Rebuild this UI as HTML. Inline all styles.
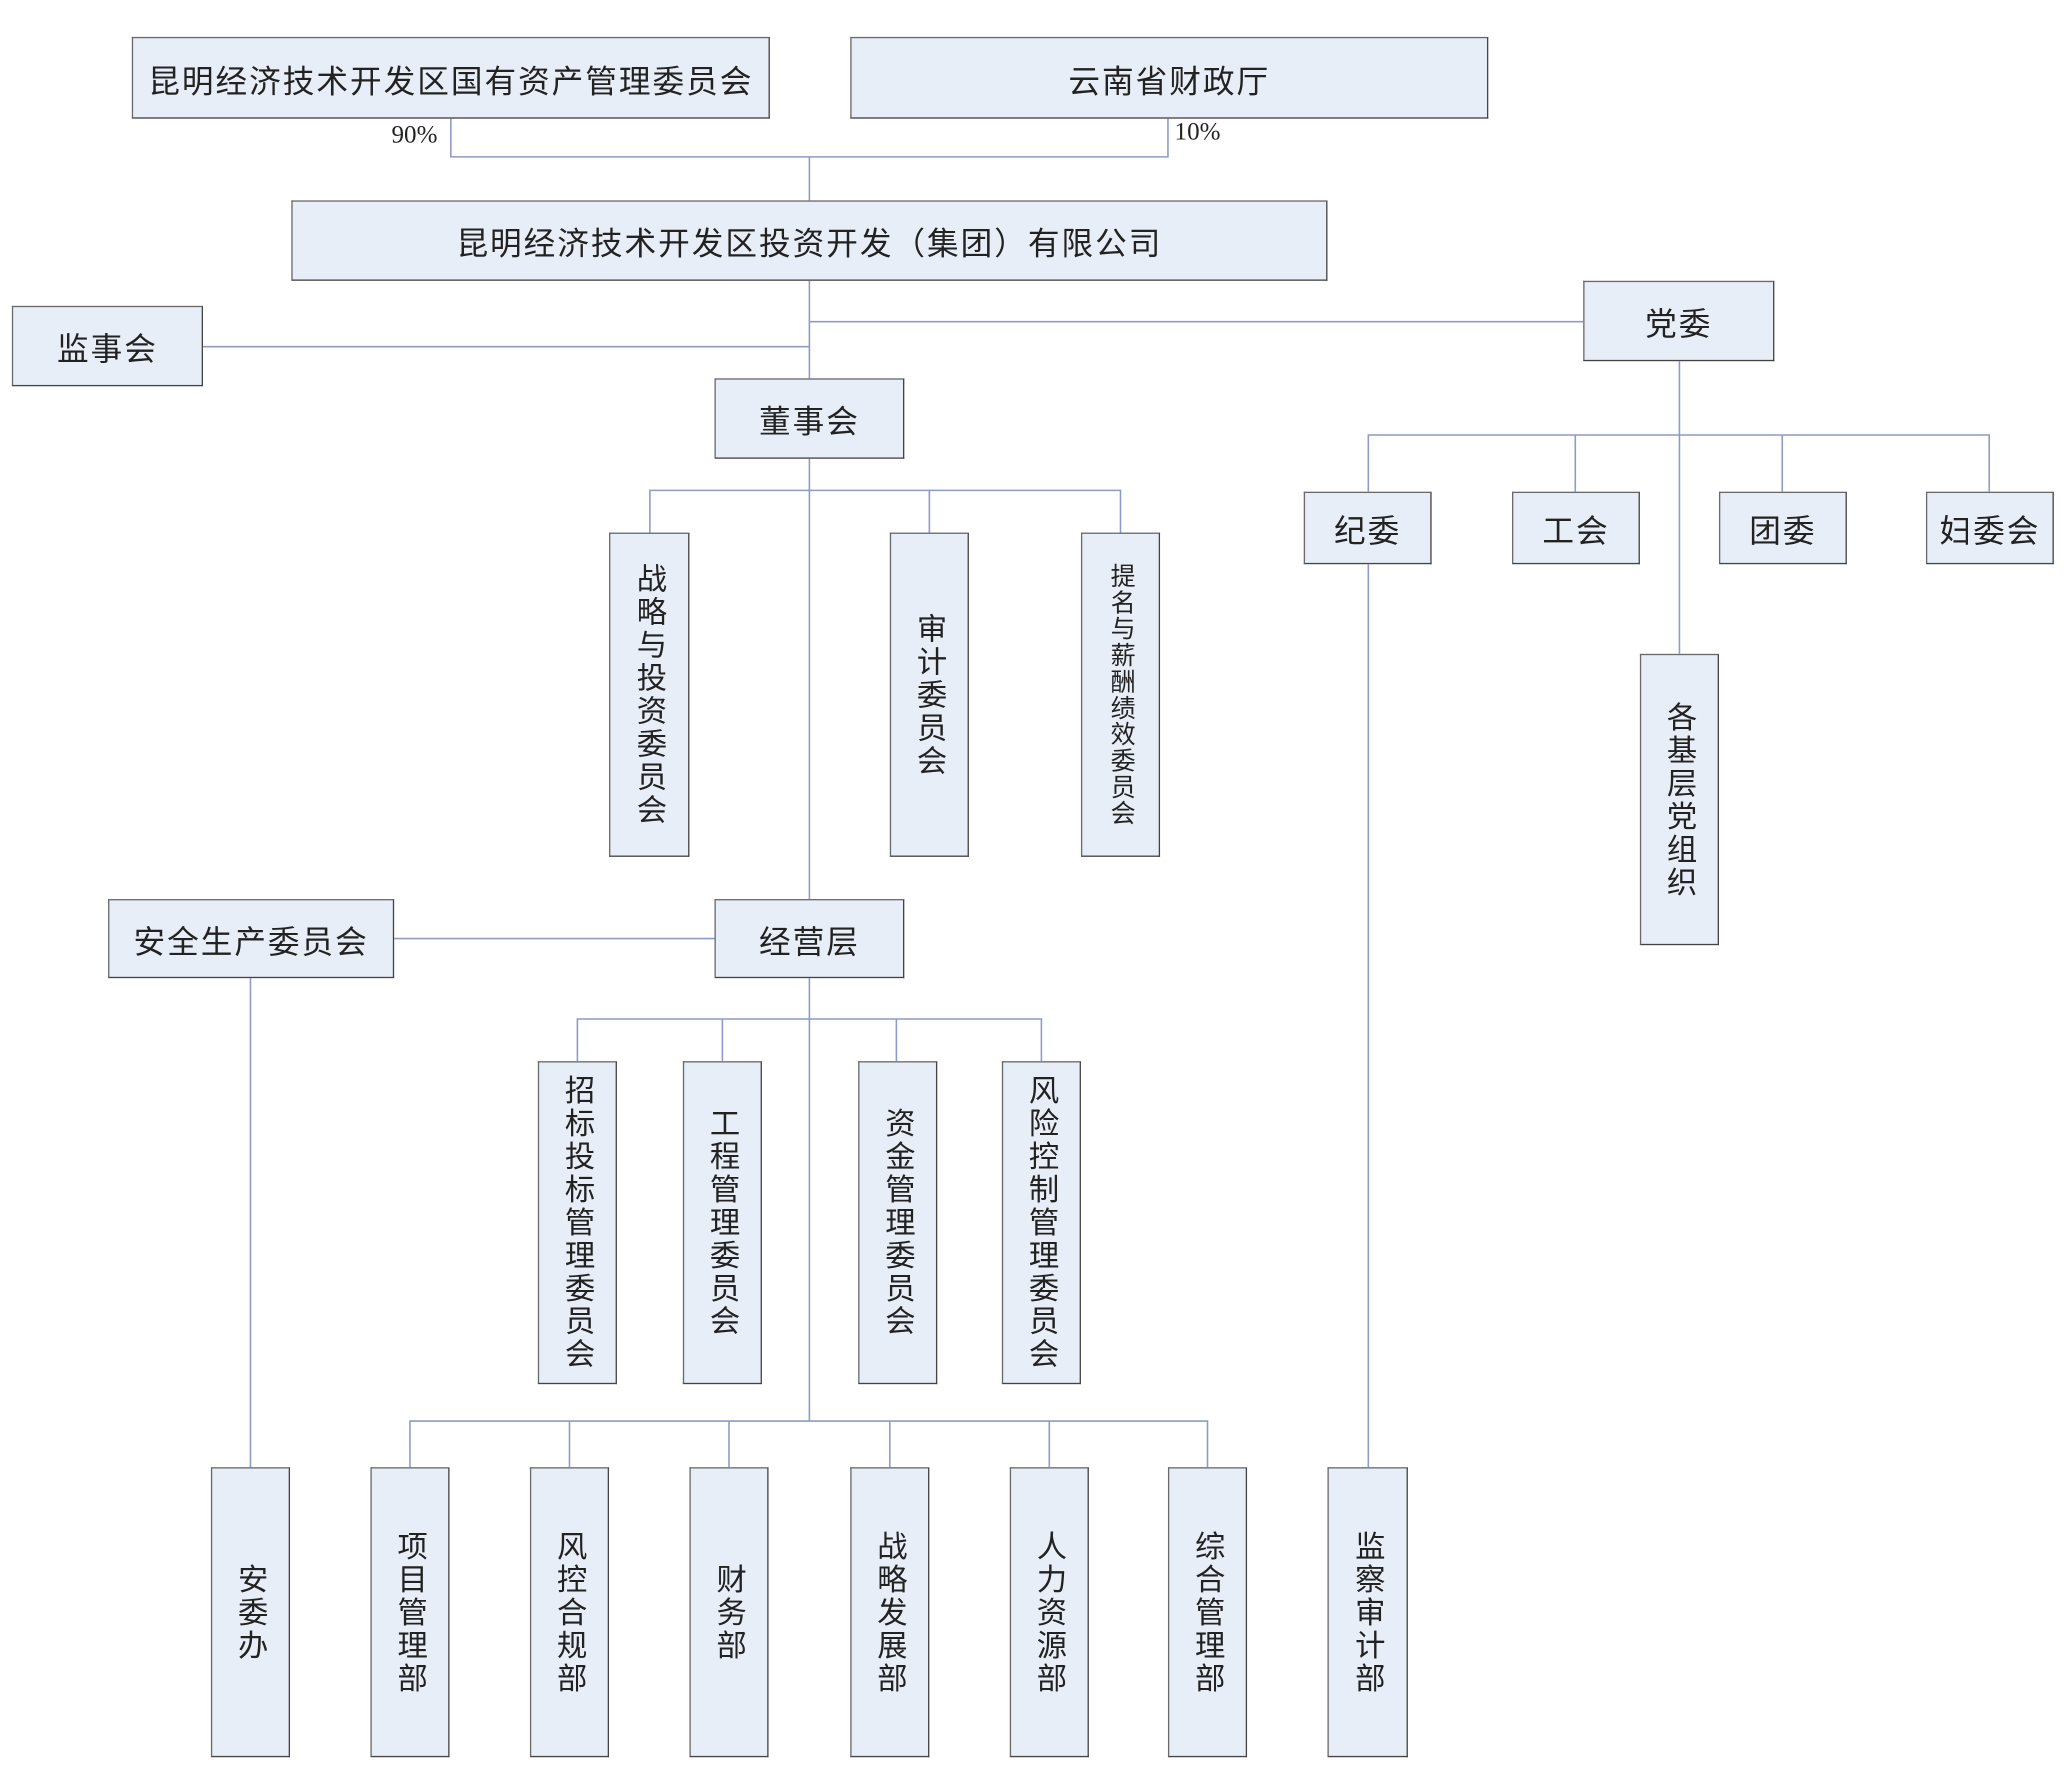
<!DOCTYPE html>
<html><head><meta charset="utf-8"><style>
html,body{margin:0;padding:0;background:#fff;}
body{width:2067px;height:1788px;overflow:hidden;position:relative;}
#c{position:absolute;left:0;top:0;width:1568px;height:1357px;transform:scale(1.31824);transform-origin:0 0;}
.b{position:absolute;box-sizing:border-box;background:#e8eef7;border:1px solid #6a6a6a;border-right:1.5px solid #444;border-bottom:1.5px solid #444;display:flex;align-items:center;justify-content:center;font-family:"Liberation Sans","Noto Sans CJK SC",sans-serif;font-size:24px;letter-spacing:1.5px;color:#222;white-space:nowrap;}
.v{writing-mode:vertical-rl;text-orientation:upright;letter-spacing:2px;font-size:23px;}
.p{position:absolute;font-family:"Liberation Serif",serif;font-size:19px;color:#222;}
svg{position:absolute;left:0;top:0;}
</style></head><body><div id="c">
<svg width="1568" height="1357" viewBox="0 0 1568 1357" fill="none" stroke="#8c9cc4" stroke-width="1.2">
<path d="M342 90V119H886V90M614 119V152"/>
<path d="M614 213V287M154 263H614M614 244H1201"/>
<path d="M614 348V682M493 404V372H850V404M705 372V404"/>
<path d="M1274 274V496M1038 373V330H1509V373M1195 330V373M1352 330V373"/>
<path d="M1038 428V1113"/>
<path d="M299 712H542M190 742V1113"/>
<path d="M614 742V1078M438 805V773H790V805M548 773V805M680 773V805"/>
<path d="M311 1113V1078H916V1113M432 1078V1113M553 1078V1113M675 1078V1113M796 1078V1113"/>
</svg>
<div class="p" style="left:297px;top:92px">90%</div>
<div class="p" style="left:891px;top:90px">10%</div>
<div class="b" style="left:100px;top:28px;width:484px;height:62px">昆明经济技术开发区国有资产管理委员会</div>
<div class="b" style="left:645px;top:28px;width:484px;height:62px">云南省财政厅</div>
<div class="b" style="left:221px;top:152px;width:786px;height:61px">昆明经济技术开发区投资开发（集团）有限公司</div>
<div class="b" style="left:9px;top:232px;width:145px;height:61px">监事会</div>
<div class="b" style="left:1201px;top:213px;width:145px;height:61px">党委</div>
<div class="b" style="left:542px;top:287px;width:144px;height:61px">董事会</div>
<div class="b v" style="left:462px;top:404px;width:61px;height:246px">战略与投资委员会</div>
<div class="b v" style="left:675px;top:404px;width:60px;height:246px">审计委员会</div>
<div class="b v" style="left:820px;top:404px;width:60px;height:246px;font-size:19px;letter-spacing:1px">提名与薪酬绩效委员会</div>
<div class="b" style="left:989px;top:373px;width:97px;height:55px">纪委</div>
<div class="b" style="left:1147px;top:373px;width:97px;height:55px">工会</div>
<div class="b" style="left:1304px;top:373px;width:97px;height:55px">团委</div>
<div class="b" style="left:1461px;top:373px;width:97px;height:55px">妇委会</div>
<div class="b v" style="left:1244px;top:496px;width:60px;height:221px">各基层党组织</div>
<div class="b" style="left:82px;top:682px;width:217px;height:60px">安全生产委员会</div>
<div class="b" style="left:542px;top:682px;width:144px;height:60px">经营层</div>
<div class="b v" style="left:408px;top:805px;width:60px;height:245px">招标投标管理委员会</div>
<div class="b v" style="left:518px;top:805px;width:60px;height:245px">工程管理委员会</div>
<div class="b v" style="left:651px;top:805px;width:60px;height:245px">资金管理委员会</div>
<div class="b v" style="left:760px;top:805px;width:60px;height:245px">风险控制管理委员会</div>
<div class="b v" style="left:160px;top:1113px;width:60px;height:220px">安委办</div>
<div class="b v" style="left:281px;top:1113px;width:60px;height:220px">项目管理部</div>
<div class="b v" style="left:402px;top:1113px;width:60px;height:220px">风控合规部</div>
<div class="b v" style="left:523px;top:1113px;width:60px;height:220px">财务部</div>
<div class="b v" style="left:645px;top:1113px;width:60px;height:220px">战略发展部</div>
<div class="b v" style="left:766px;top:1113px;width:60px;height:220px">人力资源部</div>
<div class="b v" style="left:886px;top:1113px;width:60px;height:220px">综合管理部</div>
<div class="b v" style="left:1007px;top:1113px;width:61px;height:220px">监察审计部</div>
</div></body></html>
